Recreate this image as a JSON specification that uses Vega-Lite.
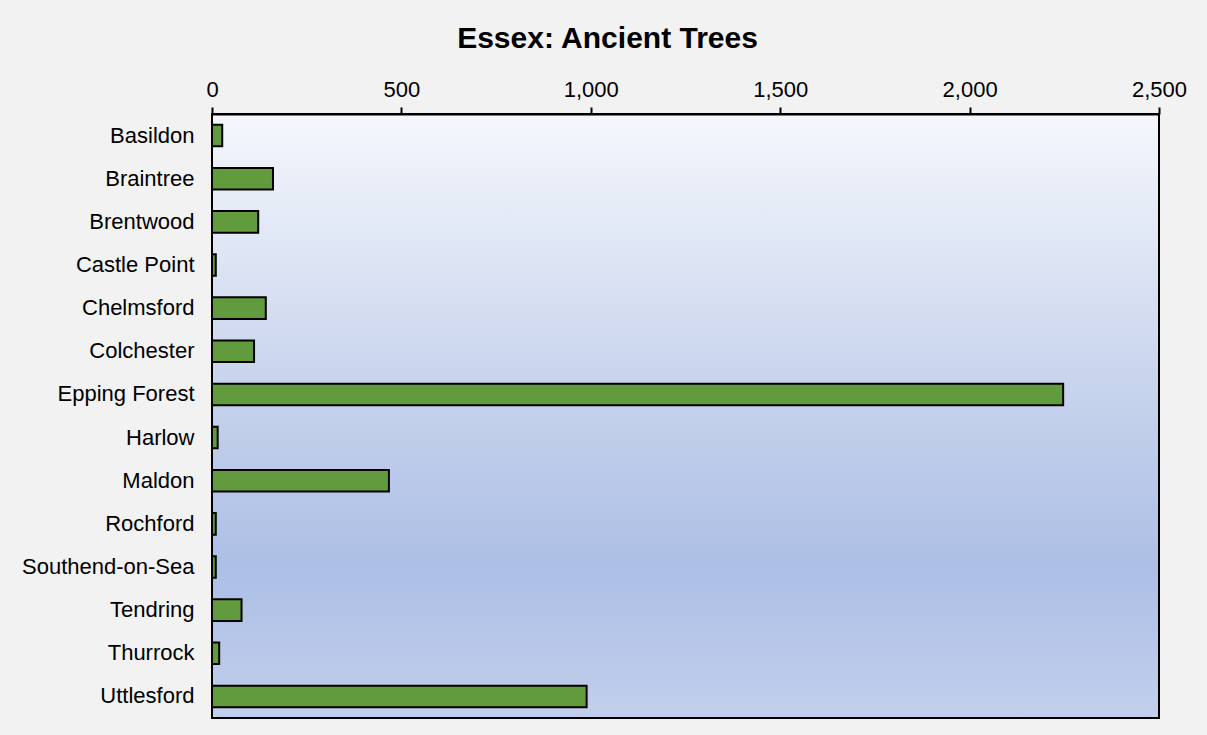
{
  "$schema": "https://vega.github.io/schema/vega-lite/v6.json",
  "width": 947,
  "height": 604,
  "autosize": {"type": "none"},
  "padding": {"left": 212, "top": 114, "right": 48, "bottom": 17},
  "background": "#f2f2f2",
  "title": {
    "text": "Essex: Ancient Trees",
    "font": "Liberation Sans",
    "fontSize": 30,
    "fontWeight": "bold",
    "color": "#000000",
    "anchor": "middle",
    "dx": -78,
    "offset": 24
  },
  "config": {
    "view": {
      "stroke": "#000000",
      "strokeWidth": 2,
      "fill": {
        "gradient": "linear",
        "x1": 0, "y1": 0, "x2": 0, "y2": 1,
        "stops": [
          {"offset": 0, "color": "#f5f7fc"},
          {"offset": 0.5, "color": "#c3d0eb"},
          {"offset": 0.75, "color": "#adbfe6"},
          {"offset": 1, "color": "#c2cfec"}
        ]
      }
    }
  },
  "data": {
    "values": [
      {"district": "Basildon", "trees": 27},
      {"district": "Braintree", "trees": 161},
      {"district": "Brentwood", "trees": 122},
      {"district": "Castle Point", "trees": 10},
      {"district": "Chelmsford", "trees": 142},
      {"district": "Colchester", "trees": 111},
      {"district": "Epping Forest", "trees": 2247},
      {"district": "Harlow", "trees": 15},
      {"district": "Maldon", "trees": 467},
      {"district": "Rochford", "trees": 10},
      {"district": "Southend-on-Sea", "trees": 10},
      {"district": "Tendring", "trees": 78},
      {"district": "Thurrock", "trees": 19},
      {"district": "Uttlesford", "trees": 989}
    ]
  },
  "mark": {"type": "bar", "fill": "#629a3e", "stroke": "#000000", "strokeWidth": 2},
  "encoding": {
    "y": {
      "field": "district",
      "type": "nominal",
      "sort": null,
      "scale": {"paddingInner": 0.5, "paddingOuter": 0.25},
      "axis": {
        "title": null,
        "ticks": false,
        "domain": false,
        "labelFont": "Liberation Sans",
        "labelFontSize": 22,
        "labelColor": "#000000",
        "labelPadding": 18
      }
    },
    "x": {
      "field": "trees",
      "type": "quantitative",
      "scale": {"domain": [0, 2500], "nice": false},
      "axis": {
        "orient": "top",
        "title": null,
        "grid": false,
        "values": [0, 500, 1000, 1500, 2000, 2500],
        "format": ",d",
        "labelFlush": false,
        "domainColor": "#000000",
        "domainWidth": 2,
        "tickColor": "#000000",
        "tickWidth": 2,
        "tickSize": 7,
        "labelFont": "Liberation Sans",
        "labelFontSize": 22,
        "labelColor": "#000000",
        "labelPadding": 6
      }
    }
  }
}
